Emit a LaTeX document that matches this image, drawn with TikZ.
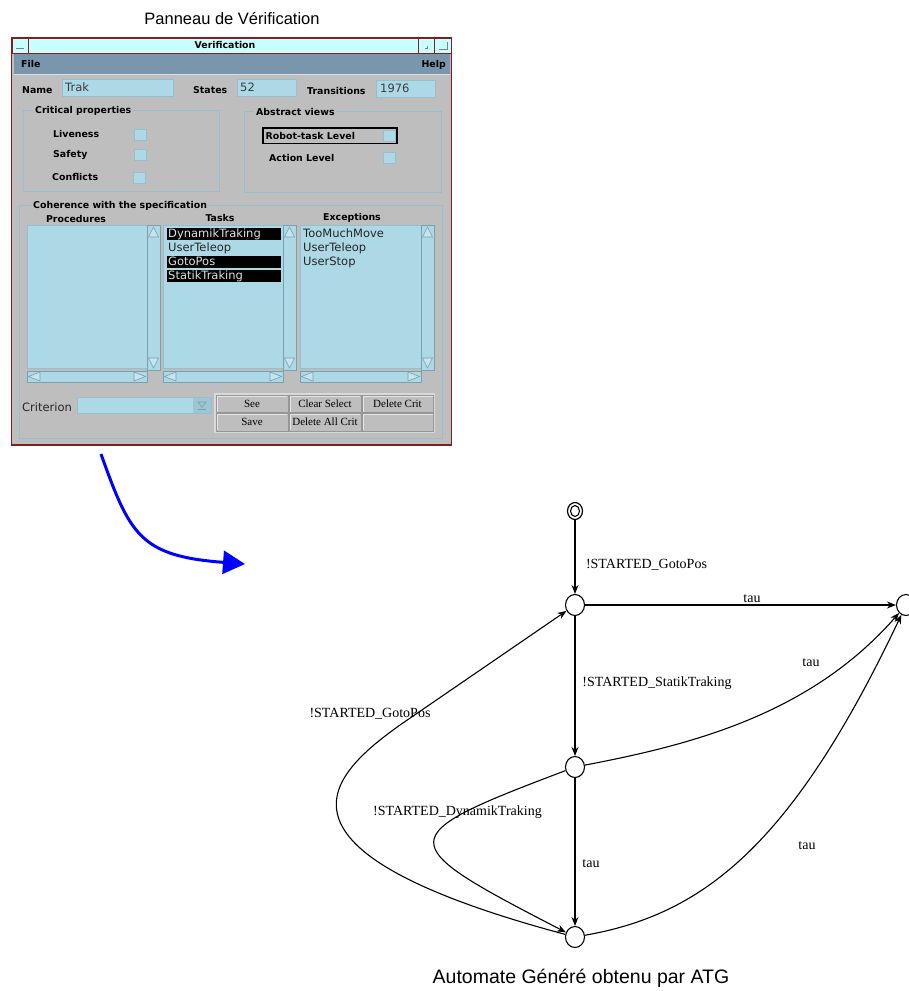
\documentclass[tikz,border=0pt]{standalone}
\usepackage{fontspec}
\setmainfont{Liberation Serif}
\newfontfamily\lsans{Liberation Sans}
\newfontfamily\dvs{DejaVu Sans}
\usetikzlibrary{shapes.geometric,arrows.meta}
\definecolor{wgrey}{RGB}{190,190,190}
\definecolor{wblue}{RGB}{173,216,230}
\definecolor{wcyan}{RGB}{200,255,255}
\definecolor{wmenu}{RGB}{122,150,172}
\definecolor{wred}{RGB}{130,30,30}
\definecolor{wline}{RGB}{150,190,205}
\definecolor{wtri}{RGB}{120,160,175}
\definecolor{wtxt}{RGB}{60,60,60}
\definecolor{wbtnline}{RGB}{150,150,150}
\begin{document}
\begin{tikzpicture}[x=1pt,y=-1pt,
  wbold/.style={font=\dvs\bfseries\fontsize{9.4}{10}\selectfont, inner sep=0pt, text height=6.8pt, text depth=0pt},
  wreg/.style={font=\dvs\fontsize{11.5}{12}\selectfont, inner sep=0pt, text height=8.4pt, text depth=0pt},
  wbtn/.style={font=\fontsize{11}{12}\selectfont, inner sep=0pt, text height=7.2pt, text depth=0pt},
  glbl/.style={font=\fontsize{14}{15}\selectfont, inner sep=0pt, text height=9.3pt, text depth=0pt},
  gtitle/.style={inner sep=0pt},
  fieldbox/.style={fill=wblue, draw=wline, line width=0.6pt},
  chk/.style={fill=wblue, draw=wline, line width=0.8pt},
  grp/.style={draw=wline, line width=0.9pt},
  grptitle/.style={wbold, fill=wgrey, inner xsep=2pt, anchor=west},
  scr/.style={fill=wblue, draw=wtri, line width=0.6pt},
  tri/.style={fill=wblue!70!white, draw=wtri, line width=0.6pt},
  stt/.style={draw, ellipse, minimum width=19pt, minimum height=21pt, inner sep=0pt, line width=1.1pt},
  edge/.style={line width=1.1pt, -{Stealth[length=9pt, width=7pt]}}
]
\useasboundingbox (0,0) rectangle (908,991);

% ---------- title ----------
\node[gtitle, font=\lsans\fontsize{16.5}{18}\selectfont, anchor=base] (ttl) at (232,24) {Panneau de Vérification};

% ---------- window ----------
\draw[wred, line width=1.2pt, fill=wgrey] (11.5,38) rectangle (451.5,445);
\fill[wcyan] (12,38.5) rectangle (451,53);
\draw[wred, line width=1pt] (12,38.5) rectangle (28,53);
\draw[wred, line width=1pt] (418,38.5) rectangle (434,53);
\draw[wred, line width=1pt] (434,38.5) rectangle (451,53);
\draw[wred, line width=0.8pt] (12,53) -- (451,53);
\draw[gray, line width=0.8pt] (16,48.5) -- (24,48.5);
\draw[gray, line width=0.8pt] (425,48) -- (427,48) -- (427,46);
\draw[gray, line width=0.8pt] (439,49) -- (447,49) -- (447,42);
\node[wbold] (wtitle) at (225,45.5) {Verification};
\fill[wmenu] (14,54) rectangle (450,74);
\draw[white!70!wmenu, line width=0.6pt] (14,74) -- (450,74);
\node[wbold, anchor=west] (mfile) at (21,64) {File};
\node[wbold, anchor=east] (mhelp) at (446,64) {Help};

% name / states / transitions
\node[wbold, anchor=west] (lname) at (22,90) {Name};
\draw[fieldbox] (62,79.5) rectangle (173,96);
\node[wreg, anchor=west, text=wtxt] (vname) at (65,87.5) {Trak};
\node[wbold, anchor=west] (lstates) at (193,90) {States};
\draw[fieldbox] (237,79.5) rectangle (296,96);
\node[wreg, anchor=west, text=wtxt] (vstates) at (240,87.5) {52};
\node[wbold, anchor=west] (ltrans) at (307,91) {Transitions};
\draw[fieldbox] (376,80) rectangle (435,97);
\node[wreg, anchor=west, text=wtxt] (vtrans) at (380,88) {1976};

% critical properties
\draw[grp] (23,110.5) rectangle (219,191);
\node[grptitle] (gcrit) at (33,110.5) {Critical properties};
\node[wbold, anchor=west] (lliv) at (53,134.5) {Liveness};
\draw[chk] (134,129) rectangle (146.5,140);
\node[wbold, anchor=west] (lsaf) at (53,154.5) {Safety};
\draw[chk] (134,149) rectangle (146.5,160);
\node[wbold, anchor=west] (lconf) at (52,177) {Conflicts};
\draw[chk] (133,172) rectangle (145.5,183);

% abstract views
\draw[grp] (244,111) rectangle (441,192);
\node[grptitle] (gabs) at (254,112) {Abstract views};
\draw[black, line width=1.2pt] (263,128) rectangle (397,143.5);
\node[wbold, anchor=west] (lrob) at (265.5,136) {Robot-task Level};
\draw[chk] (383,130) rectangle (395.5,141.5);
\node[wbold, anchor=west] (lact) at (269,158) {Action Level};
\draw[chk] (383,152.5) rectangle (395.5,163.5);

% coherence
\draw[grp] (19,205) rectangle (442,438.5);
\node[grptitle] (gcoh) at (31,205) {Coherence with the specification};
\node[wbold] (hproc) at (76,219) {Procedures};
\node[wbold] (htask) at (220,218) {Tasks};
\node[wbold] (hexc) at (352,217) {Exceptions};

\foreach \xa/\xb in {27/147, 163/283, 300/421} {
  \fill[wblue] (\xa,225) rectangle (\xb,368.5);
  \draw[wline, line width=0.6pt] (\xa,225) rectangle (\xb,368.5);
  \draw[scr] (\xb,225) rectangle (\xb+13,370);
  \draw[tri] (\xb+1.5,237) -- (\xb+6.5,227) -- (\xb+11.5,237) -- cycle;
  \draw[tri] (\xb+1.5,358) -- (\xb+6.5,368) -- (\xb+11.5,358) -- cycle;
  \draw[scr] (\xa,371) rectangle (\xb,382);
  \draw[tri] (\xa+13,372) -- (\xa+1.5,376.5) -- (\xa+13,381) -- cycle;
  \draw[tri] (\xb-13,372) -- (\xb-1.5,376.5) -- (\xb-13,381) -- cycle;
}
% tasks items
\fill[black] (167,227.5) rectangle (281,239.5);
\fill[black] (167,255.5) rectangle (281,267.5);
\fill[black] (167,269.5) rectangle (281,281.5);
\node[wreg, anchor=west, text=white!88!black] (t1) at (168,233.5) {DynamikTraking};
\node[wreg, anchor=west, text=black!85] (t2) at (168,247.5) {UserTeleop};
\node[wreg, anchor=west, text=white!88!black] (t3) at (168,261.5) {GotoPos};
\node[wreg, anchor=west, text=white!88!black] (t4) at (168,275.5) {StatikTraking};
% exceptions items
\node[wreg, anchor=west, text=black!85] (e1) at (303,233.5) {TooMuchMove};
\node[wreg, anchor=west, text=black!85] (e2) at (303,247.5) {UserTeleop};
\node[wreg, anchor=west, text=black!85] (e3) at (303,261.5) {UserStop};

% criterion
\node[wreg, anchor=west, text=black!85] (lcrit) at (22,407) {Criterion};
\draw[fieldbox] (77,397) rectangle (211,413.5);
\fill[wline!70!wblue] (193,398) rectangle (210.5,412.5);
\draw[wtri, line width=0.6pt] (198,402) -- (206,402) -- (202,407.5) -- cycle;
\draw[wtri, line width=0.6pt] (198,409.5) -- (206,409.5);

% buttons
\draw[white!70!gray, line width=1.2pt, fill=wgrey] (215,394) rectangle (434.5,432);
\foreach \xa/\xb in {216/288, 289/361, 362/433.5} {
  \foreach \ya/\yb in {395/412.5, 413.5/431} {
    \draw[wbtnline, line width=0.8pt, fill=wgrey] (\xa,\ya) rectangle (\xb,\yb);
    \draw[white!80!gray, line width=0.6pt] (\xa+0.8,\yb-0.8) -- (\xa+0.8,\ya+0.8) -- (\xb-0.8,\ya+0.8);
  }
}
\node[wbtn] (bsee) at (252,404) {See};
\node[wbtn] (bclr) at (325,404) {Clear Select};
\node[wbtn] (bdel) at (397.5,404) {Delete Crit};
\node[wbtn] (bsave) at (252,422) {Save};
\node[wbtn] (bdall) at (325,422) {Delete All Crit};

% ---------- blue arrow ----------
\coordinate (bs) at (101,454);
\coordinate (be) at (245,564);
\draw[blue, line width=3pt, -{Triangle[length=22pt, width=23pt]}] (bs) .. controls (130,535) and (140,556) .. (be);

% ---------- automaton ----------
\node[draw, ellipse, minimum width=15pt, minimum height=17pt, inner sep=0pt, line width=1.2pt] (s0) at (575,511) {};
\node[draw, ellipse, minimum width=9pt, minimum height=11pt, inner sep=0pt, line width=1.1pt] (s0i) at (575,511) {};
\node[stt] (s1) at (575,605) {};
\node[stt] (s2) at (575,767) {};
\node[stt] (s3) at (575,937) {};
\node[stt] (sR) at (906,605) {};

\draw[edge] (s0) -- (s1);
\draw[edge] (s1) -- (sR);
\draw[edge] (s1) -- (s2);
\draw[edge] (s2) -- (s3);
\draw[edge] (s2) .. controls (690,745) and (810,715) .. (sR);
\draw[edge] (s3) .. controls (700,915) and (790,850) .. (sR);
\draw[edge] (s3) .. controls (250,850) and (330,775) .. (400,725) -- (s1);
\draw[edge] (s2) .. controls (390,837) and (391,842) .. (s3);

\node[glbl] (l1) at (646.5,564) {!STARTED\_GotoPos};
\node[glbl] (l2) at (752,598) {tau};
\node[glbl] (l3) at (657,682) {!STARTED\_StatikTraking};
\node[glbl] (l4) at (811,662) {tau};
\node[glbl] (l5) at (370,713) {!STARTED\_GotoPos};
\node[glbl] (l6) at (457.5,811) {!STARTED\_DynamikTraking};
\node[glbl] (l7) at (591,863) {tau};
\node[glbl] (l8) at (807,845) {tau};

% ---------- caption ----------
\node[gtitle, font=\lsans\fontsize{19.5}{21}\selectfont, anchor=base] (cap) at (581,983) {Automate Généré obtenu par ATG};
\end{tikzpicture}
\end{document}
